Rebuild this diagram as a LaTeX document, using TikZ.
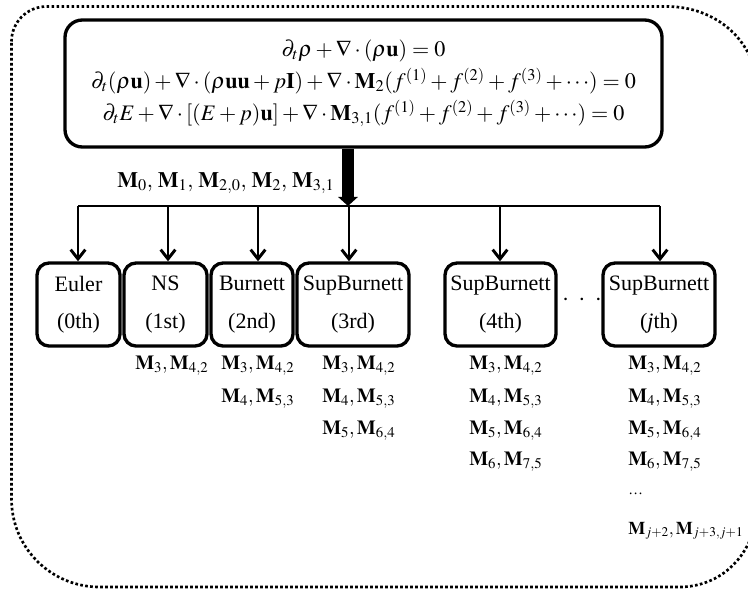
\documentclass[tikz,border=0pt]{standalone}
\usepackage{mathptmx}
\usepackage{fontspec}
\setmainfont{Liberation Serif}
\usetikzlibrary{arrows.meta}
\begin{document}
\begin{tikzpicture}[x=0.75pt,y=-0.75pt,
  stage/.style={draw, line width=2.5pt, rounded corners=9pt, inner sep=0pt, align=center,
    minimum height=62.25pt, font=\fontsize{16.5}{28}\selectfont},
  eqbox/.style={draw, line width=2.5pt, rounded corners=13pt, inner sep=0pt, align=center,
    font=\fontsize{16.6}{24}\selectfont},
  bus/.style={line width=2.2pt},
  arr/.style={line width=2.2pt, -{Straight Barb[length=7pt,width=11pt]}},
  bigarr/.style={line width=9pt, -{Triangle[length=6.8pt,width=14.5pt]}},
  lab/.style={anchor=base west, inner sep=0pt, font=\fontsize{15}{15}\selectfont},
  outline/.style={line width=2pt, dash pattern=on 2pt off 1.75pt}
]
\useasboundingbox (0,0) rectangle (748,592);
% outer dotted frame
\draw[outline] (11.5,41.5) .. controls (11.5,22.2) and (27.2,6.5) .. (46.5,6.5)
  -- (667,6.5) .. controls (715,6.5) and (758,40) .. (758,95)
  -- (758,500) .. controls (758,550) and (725,587) .. (679,587)
  -- (99.5,587) .. controls (50.9,587) and (11.5,547.6) .. (11.5,499) -- cycle;

% equations
\node[eqbox, minimum width=447.75pt, minimum height=95.25pt] (eq) at (363.5,83.5)
 {$\partial_t\rho+\nabla\cdot(\rho\mathbf{u})=0$\\
  $\partial_t(\rho\mathbf{u})+\nabla\cdot(\rho\mathbf{uu}+p\mathbf{I})+\nabla\cdot\mathbf{M}_2(f^{(1)}+f^{(2)}+f^{(3)}+\cdots)=0$\\
  $\partial_t E+\nabla\cdot[(E+p)\mathbf{u}]+\nabla\cdot\mathbf{M}_{3,1}(f^{(1)}+f^{(2)}+f^{(3)}+\cdots)=0$};

% stage boxes
\node[stage, minimum width=62.25pt] (euler) at (78.5,304.5) {Euler\\(0th)};
\node[stage, minimum width=62.25pt] (ns) at (165.5,304.5) {NS\\(1st)};
\node[stage, minimum width=61.5pt] (burnett) at (252,304.5) {Burnett\\(2nd)};
\node[stage, minimum width=84pt] (sb3) at (353,304.5) {SupBurnett\\(3rd)};
\node[stage, minimum width=83.25pt] (sb4) at (500.5,304.5) {SupBurnett\\(4th)};
\node[stage, minimum width=84pt] (sbj) at (659,304.5) {SupBurnett\\(\textit{j}th)};
\node[inner sep=0pt, font=\fontsize{16}{16}\selectfont] (gap) at (582,302) {·\hspace{7pt}·\hspace{7pt}·};

% bus and arrows
\coordinate (busL) at (78,206);
\coordinate (busR) at (660,206);
\draw[bus] (busL) -- (busR);
\draw[bigarr] (348,0 |- eq.south) -- (348,0 |- busL);
\draw[arr] (busL) -- (78,0 |- euler.north);
\draw[arr] (168,0 |- busL) -- (168,0 |- ns.north);
\draw[arr] (258,0 |- busL) -- (258,0 |- burnett.north);
\draw[arr] (349,0 |- busL) -- (349,0 |- sb3.north);
\draw[arr] (500,0 |- busL) -- (500,0 |- sb4.north);
\draw[arr] (busR) -- (660,0 |- sbj.north);

\node[lab, font=\fontsize{16.5}{16.5}\selectfont] (mtop) at (117,187)
  {$\mathbf{M}_0,\,\mathbf{M}_1,\,\mathbf{M}_{2,0},\,\mathbf{M}_2,\,\mathbf{M}_{3,1}$};

% moment labels
\node[lab] (ns1) at (135,369) {$\mathbf{M}_3,\mathbf{M}_{4,2}$};
\node[lab] (bu1) at (221,369) {$\mathbf{M}_3,\mathbf{M}_{4,2}$};
\node[lab] (bu2) at (221,402) {$\mathbf{M}_4,\mathbf{M}_{5,3}$};
\node[lab] (s31) at (322,369) {$\mathbf{M}_3,\mathbf{M}_{4,2}$};
\node[lab] (s32) at (322,402) {$\mathbf{M}_4,\mathbf{M}_{5,3}$};
\node[lab] (s33) at (322,434) {$\mathbf{M}_5,\mathbf{M}_{6,4}$};
\node[lab] (s41) at (469,369) {$\mathbf{M}_3,\mathbf{M}_{4,2}$};
\node[lab] (s42) at (469,402) {$\mathbf{M}_4,\mathbf{M}_{5,3}$};
\node[lab] (s43) at (469,434) {$\mathbf{M}_5,\mathbf{M}_{6,4}$};
\node[lab] (s44) at (469,465) {$\mathbf{M}_6,\mathbf{M}_{7,5}$};
\node[lab] (sj1) at (628,369) {$\mathbf{M}_3,\mathbf{M}_{4,2}$};
\node[lab] (sj2) at (628,402) {$\mathbf{M}_4,\mathbf{M}_{5,3}$};
\node[lab] (sj3) at (628,434) {$\mathbf{M}_5,\mathbf{M}_{6,4}$};
\node[lab] (sj4) at (628,465) {$\mathbf{M}_6,\mathbf{M}_{7,5}$};
\node[lab, font=\fontsize{11}{11}\selectfont] (sjd) at (628,494) {…};
\node[lab, font=\fontsize{13.5}{13.5}\selectfont] (sj5) at (628,534) {$\mathbf{M}_{j+2},\mathbf{M}_{j+3,j+1}$};
\end{tikzpicture}
\end{document}
